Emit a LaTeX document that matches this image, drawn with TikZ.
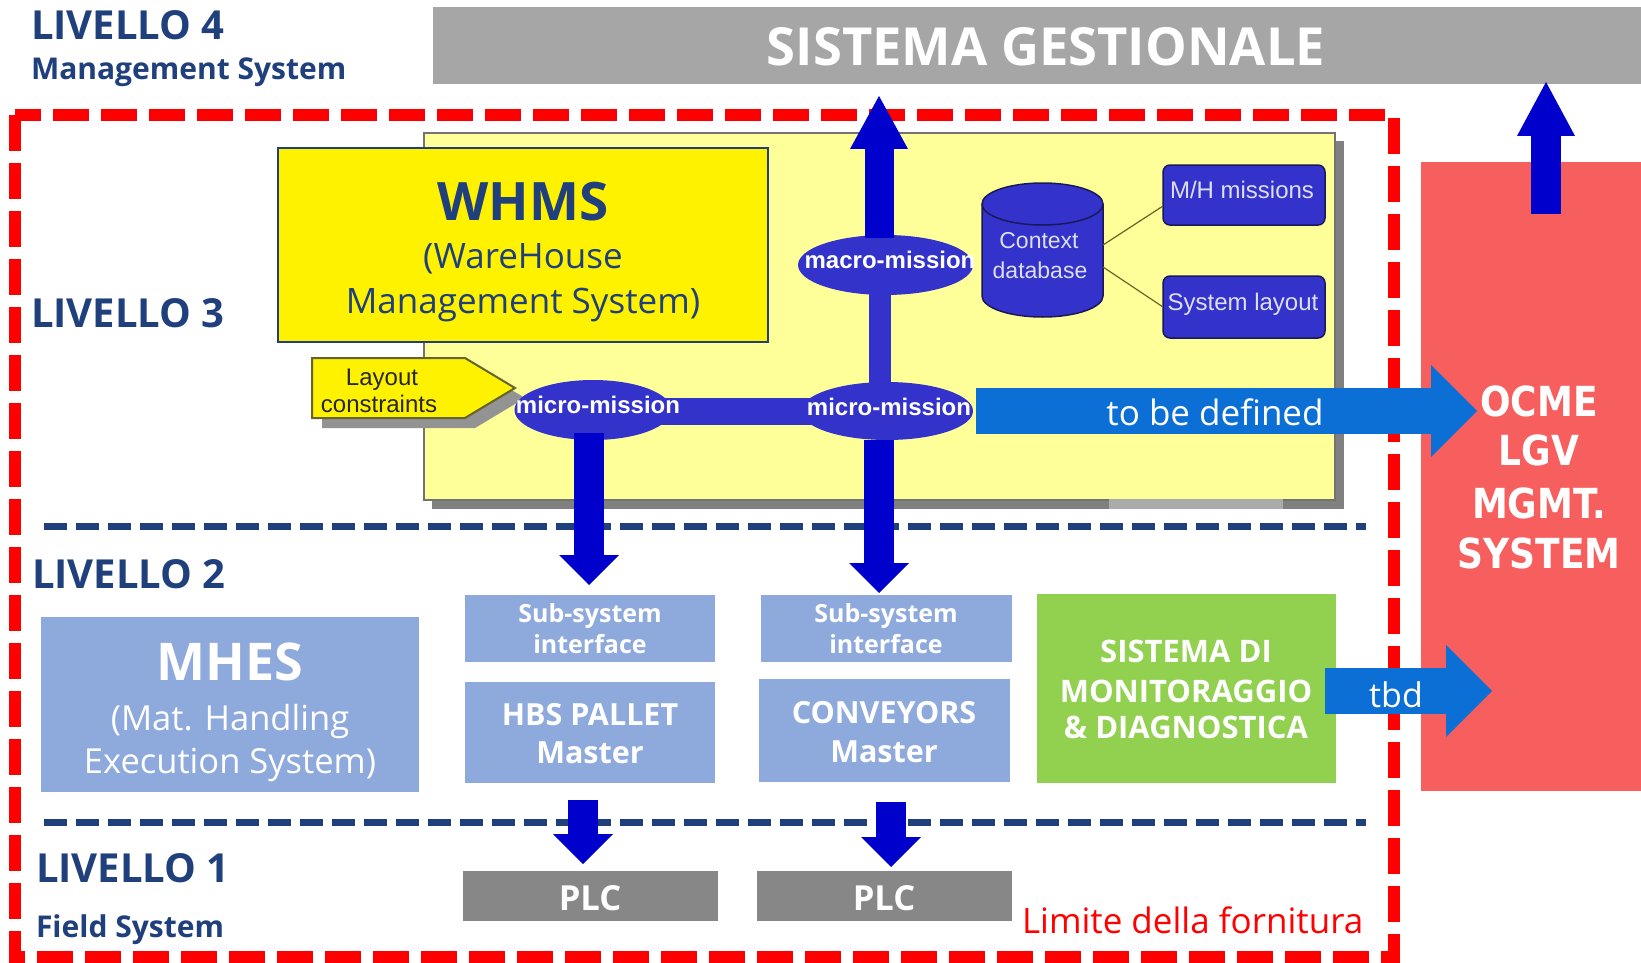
\documentclass[tikz,border=0pt]{standalone}
\usepackage{fontspec}
\setmainfont{Open Sans}
\newfontfamily\arialf{Liberation Sans}
\newfontfamily\verdf{DejaVu Sans}
\usetikzlibrary{arrows.meta,shapes.geometric,calc}
\definecolor{navy}{RGB}{31,64,124}
\definecolor{barGray}{RGB}{166,166,166}
\definecolor{ocmeRed}{RGB}{247,94,94}
\definecolor{paleY}{RGB}{255,255,153}
\definecolor{ellB}{RGB}{51,51,204}
\definecolor{darkB}{RGB}{0,0,204}
\definecolor{tbdB}{RGB}{11,111,214}
\definecolor{lightB}{RGB}{142,169,219}
\definecolor{grn}{RGB}{146,208,80}
\definecolor{plcGray}{RGB}{135,135,135}
\definecolor{shGray}{RGB}{128,128,128}
\definecolor{lav}{RGB}{222,222,240}
\definecolor{olivel}{RGB}{100,100,40}
\definecolor{cylBd}{RGB}{25,25,90}
\newcommand\fsz[1]{\fontsize{#1}{#1}\selectfont}
\newcommand\tallbox[1]{\scalebox{1}[1.15]{#1}}
\begin{document}
\begin{tikzpicture}[x=1pt,y=-1pt,
  txt/.style={inner sep=0pt,outer sep=0pt,anchor=base},
  rbox/.style={inner sep=0pt,outer sep=0pt,anchor=center},
  ell/.style={ellipse,fill=ellB,inner sep=0pt,outer sep=0pt},
  darr/.style={draw=darkB,line width=30pt,-{Triangle[width=60pt,length=30pt,line width=0pt]}},
  dup/.style={draw=darkB,line width=29pt,-{Triangle[width=58pt,length=53pt,line width=0pt]}},
  barr/.style={draw=tbdB,line width=46pt,-{Triangle[width=92pt,length=46pt,line width=0pt]}},
  lvl/.style={txt,anchor=base west,text=navy,font=\bfseries\fsz{40}},
  lvlsub/.style={txt,anchor=base west,text=navy,font=\bfseries\fsz{30}},
  wb/.style={txt,text=white,font=\bfseries\fsz{#1}},
  wr/.style={txt,text=white,font=\fsz{#1}},
  ocmet/.style={txt,text=white,font=\verdf\bfseries\fsz{36}},
  dashblue/.style={draw=navy,line width=7pt,dash pattern=on 23pt off 9pt},
  dashred/.style={draw=red,line width=12pt,dash pattern=on 36pt off 12pt}
]
\useasboundingbox (0,0) rectangle (1641,963);
\fill[white] (0,0) rectangle (1641,963);

% red supply limit
\draw[dashred] (15,115) rectangle (1394,957);

% level 4 bar and OCME box
\node[rbox,fill=barGray,minimum width=1208pt,minimum height=77pt] (sg) at (1037,45.5) {};
\node[rbox,fill=ocmeRed,minimum width=220pt,minimum height=629pt] (ocme) at (1531,476.5) {};

% pale yellow WHMS screenshot
\fill[shGray] (432,141) rectangle (1344,509);
\node[rbox,fill=paleY,draw=black!55,line width=2pt,minimum width=911pt,minimum height=367pt] (pale) at (879.5,316.5) {};
\fill[black!33] (1109,499) rectangle (1283,509);

% WHMS box
\node[rbox,fill=yellow,draw=navy,line width=2.5pt,minimum width=490pt,minimum height=194pt] (whms) at (523,245) {};

% layout constraints pentagon
\fill[shGray!85] (322,368) -- (475,368) -- (525,398) -- (475,428) -- (322,428) -- cycle;
\draw[fill=yellow,draw=olivel,line width=2pt] (312,358) -- (465,358) -- (515,388) -- (465,418) -- (312,418) -- cycle;

% bars between ellipses
\coordinate (e1c) at (593,410);
\coordinate (e2c) at (887,411);
\coordinate (emc) at (885.5,265);
\draw[ellB,line width=27pt] ($(e1c)+(0,1.5)$) -- ($(e2c)+(0,0.5)$);
\draw[ellB,line width=22pt] ($(emc)+(-5.5,0)$) -- ($(e2c)+(-7,0)$);
\node[ell,minimum width=157pt,minimum height=60pt] (e1) at (e1c) {};
\node[ell,minimum width=172pt,minimum height=58pt] (e2) at (e2c) {};
\node[ell,minimum width=175pt,minimum height=60pt] (em) at (emc) {};
\node[txt,text=white,font=\arialf\bfseries\fsz{24}] (e1t) at (598,413) {micro-mission};
\node[txt,text=white,font=\arialf\bfseries\fsz{24}] (e2t) at (889,415) {micro-mission};
\begin{scope}
\clip (790,230) rectangle (975,300);
\node[txt,text=white,font=\arialf\bfseries\fsz{24}] (emt) at (890,268) {macro-mission};
\end{scope}

% context database cylinder
\node[rbox,minimum width=121pt,minimum height=134pt] (ctx) at (1042.5,250) {};
\path[fill=ellB,draw=cylBd,line width=1.5pt] (982,204) -- (982,296) arc[start angle=180,end angle=0,x radius=60.5,y radius=21] -- (1103,204) arc[start angle=0,end angle=-180,x radius=60.5,y radius=21] -- cycle;
\draw[cylBd,line width=1.5pt] (982,204) arc[start angle=180,end angle=0,x radius=60.5,y radius=21];
\node[txt,text=lav,font=\arialf\fsz{23}] (ctx1) at (1039,248) {Context};
\node[txt,text=lav,font=\arialf\fsz{23}] (ctx2) at (1040,278) {database};

\node[rbox,fill=ellB,draw=cylBd,line width=1.5pt,rounded corners=7pt,minimum width=162pt,minimum height=60pt] (mh) at (1244,195) {};
\node[rbox,fill=ellB,draw=cylBd,line width=1.5pt,rounded corners=7pt,minimum width=162pt,minimum height=62pt] (sl) at (1244,307) {};
\draw[olivel,line width=1.2pt] ($(ctx.east)+(0,-5)$) -- ($(mh.west)+(0,11)$);
\draw[olivel,line width=1.2pt] ($(ctx.east)+(0,17)$) -- (sl.west);
\node[txt,text=lav,font=\arialf\fsz{24}] (mht) at (1242,198) {M/H missions};
\node[txt,text=lav,font=\arialf\fsz{24}] (slt) at (1243,310) {System layout};

% dashed level separators
\draw[dashblue] (44,526) -- (1366,526);
\draw[dashblue] (44,822) -- (1366,822);

% level 2 and 1 boxes
\node[rbox,fill=lightB,minimum width=378pt,minimum height=175pt] (mhes) at (230,704.5) {};
\node[rbox,fill=lightB,minimum width=250pt,minimum height=67pt] (ss1) at (590,628.5) {};
\node[rbox,fill=lightB,minimum width=250pt,minimum height=101pt] (hbs) at (590,732.5) {};
\node[rbox,fill=lightB,minimum width=251pt,minimum height=67pt] (ss2) at (886.5,628.5) {};
\node[rbox,fill=lightB,minimum width=251pt,minimum height=103pt] (conv) at (884.5,730.5) {};
\node[rbox,fill=grn,minimum width=299pt,minimum height=189pt] (green) at (1186.5,688.5) {};
\node[rbox,fill=plcGray,minimum width=255pt,minimum height=50pt] (plc1) at (590.5,896) {};
\node[rbox,fill=plcGray,minimum width=255pt,minimum height=50pt] (plc2) at (884.5,896) {};

% dark blue arrows
\coordinate (upTip) at (879,96);
\draw[dup] ($(em.north)+(-6.5,3)$) -- (upTip);
\draw[darr] ($(e1.south)+(-4,-7)$) -- ($(ss1.north)+(-1,-10)$);
\draw[darr] ($(e2.south)+(-8,0)$) -- ($(ss2.north)+(-7.5,-2)$);
\draw[darr] ($(hbs.south)+(-7,17)$) -- ($(plc1.north)+(-7.5,-7)$);
\draw[darr] ($(conv.south)+(6.5,20)$) -- ($(plc2.north)+(6.5,-4)$);
\draw[draw=darkB,line width=30pt,-{Triangle[width=58pt,length=54pt,line width=0pt]}] ($(ocme.north)+(15,52)$) -- ($(sg.south)+(509,-2)$);

% light blue arrows
\draw[barr] ($(e2.east)+(3,0)$) -- ($(ocme.west)+(56,-65.5)$);
\draw[barr] ($(green.east)+(-11,2.5)$) -- ($(ocme.west)+(71,214.5)$);

% texts
\node[lvl] (l4) at (31,40) {LIVELLO 4};
\node[lvlsub] (l4s) at (31,80) {Management System};
\node[lvl] (l3) at (31,327) {LIVELLO 3};
\node[lvl] (l2) at (32,588) {LIVELLO 2};
\node[lvl] (l1) at (36,882) {LIVELLO 1};
\node[lvlsub] (l1s) at (36,937) {Field System};

\node[wb=52.5] (sgt) at (1046,66) {SISTEMA GESTIONALE};
\node[txt,text=navy,font=\bfseries\fsz{53}] (wh1) at (523,220) {WHMS};
\node[txt,text=navy,font=\fsz{35}] (wh2) at (523,268) {(WareHouse};
\node[txt,text=navy,font=\fsz{35}] (wh3) at (523,313) {Management System)};
\node[txt,text=black!85,font=\arialf\fsz{24}] (lc1) at (382,385) {Layout};
\node[txt,text=black!85,font=\arialf\fsz{24}] (lc2) at (379,412) {constraints};

\node[wr=35] (tbd1) at (1215,425) {to be defined};
\node[wr=34] (tbd2) at (1396,707) {tbd};

\node[ocmet] (oc1) at (1539,416) {\tallbox{OCME}};
\node[ocmet] (oc2) at (1539,465) {\tallbox{LGV}};
\node[ocmet] (oc3) at (1539,518) {\tallbox{MGMT.}};
\node[ocmet] (oc4) at (1539,568) {\tallbox{SYSTEM}};

\node[wb=31] (g1) at (1186,662) {SISTEMA DI};
\node[wb=31] (g2) at (1186,702) {MONITORAGGIO};
\node[wb=31] (g3) at (1186,738) {\& DIAGNOSTICA};

\node[wb=25] (s11) at (590,622) {Sub-system};
\node[wb=25] (s12) at (590,653) {interface};
\node[wb=25] (s21) at (886,622) {Sub-system};
\node[wb=25] (s22) at (886,653) {interface};
\node[wb=30.5] (h1) at (590,725) {HBS PALLET};
\node[wb=30.5] (h2) at (590,763) {Master};
\node[wb=30.5] (c1) at (884,723) {CONVEYORS};
\node[wb=30.5] (c2) at (884,762) {Master};

\node[wb=52] (m1) at (230,680) {MHES};
\node[wr=34.5] (m2) at (230,730) {(Mat. Handling};
\node[wr=34.5] (m3) at (230,773) {Execution System)};

\node[wb=34.5] (p1) at (590,910) {PLC};
\node[wb=34.5] (p2) at (884,910) {PLC};

\node[txt,anchor=base west,text=red,font=\fsz{35}] (lim) at (1022,933) {Limite della fornitura};
\end{tikzpicture}
\end{document}
